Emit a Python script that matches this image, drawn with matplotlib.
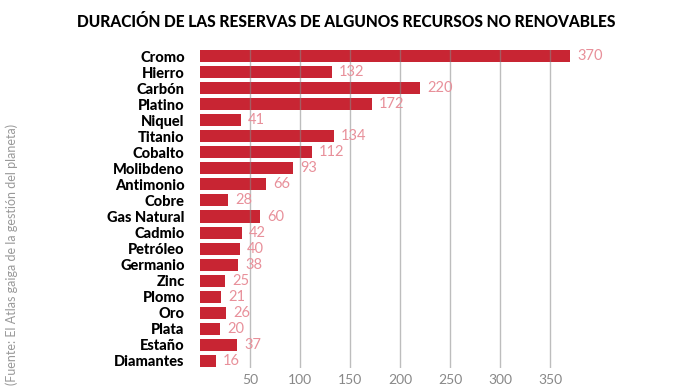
import matplotlib
matplotlib.use("Agg")
import matplotlib.pyplot as plt
import numpy as np

recursos = ["Cromo", "Hierro", "Carbón", "Platino", "Niquel", "Titanio", "Cobalto",
            "Molibdeno", "Antimonio", "Cobre", "Gas Natural", "Cadmio", "Petróleo",
            "Germanio", "Zinc", "Plomo", "Oro", "Plata", "Estaño", "Diamantes"]
anios = [370, 132, 220, 172, 41, 134, 112, 93, 66, 28, 60, 42, 40, 38, 25, 21, 26, 20, 37, 16]
ticks = [50, 100, 150, 200, 250, 300, 350]

plt.rcParams['font.family'] = ['Lato', 'DejaVu Sans']

fig = plt.figure(figsize=(6.94, 3.92), dpi=100)
W, H = 694, 392
ax = fig.add_axes([200 / W, 1 - 368 / H, 370 / W, (368 - 50) / H])

y = np.arange(len(recursos))
ax.barh(y, anios, height=0.75, color="#c82533")
for yi, v in zip(y, anios):
    ax.text(v + 7, yi, str(v), va="center", ha="left", fontsize=10.5,
            color="#e8909a", clip_on=False)

ax.set_xlim(0, 370)
ax.set_ylim(len(recursos) - 0.56, -0.375)
ax.set_yticks(y)
ax.set_yticklabels(recursos, fontsize=10.5, fontweight="black", color="black")
ax.set_xticks(ticks)
ax.set_xticklabels([str(t) for t in ticks], fontsize=10, color="#888888")
ax.tick_params(length=0, pad=4)
ax.tick_params(axis="y", pad=11)
ax.grid(axis="x", color="#888888", alpha=0.55, lw=1)
for s in ax.spines.values():
    s.set_visible(False)

fig.text(346 / W, 1 - 22 / H, "DURACIÓN DE LAS RESERVAS DE ALGUNOS RECURSOS NO RENOVABLES",
         ha="center", va="center", fontsize=11.2, fontweight="black", color="black")
fig.text(12 / W, 1 - 385 / H, "(Fuente: El Atlas gaiga de la gestión del planeta)",
         rotation=90, ha="center", va="bottom", fontsize=9.0, color="#999999")

fig.savefig("out.png", dpi=100)
